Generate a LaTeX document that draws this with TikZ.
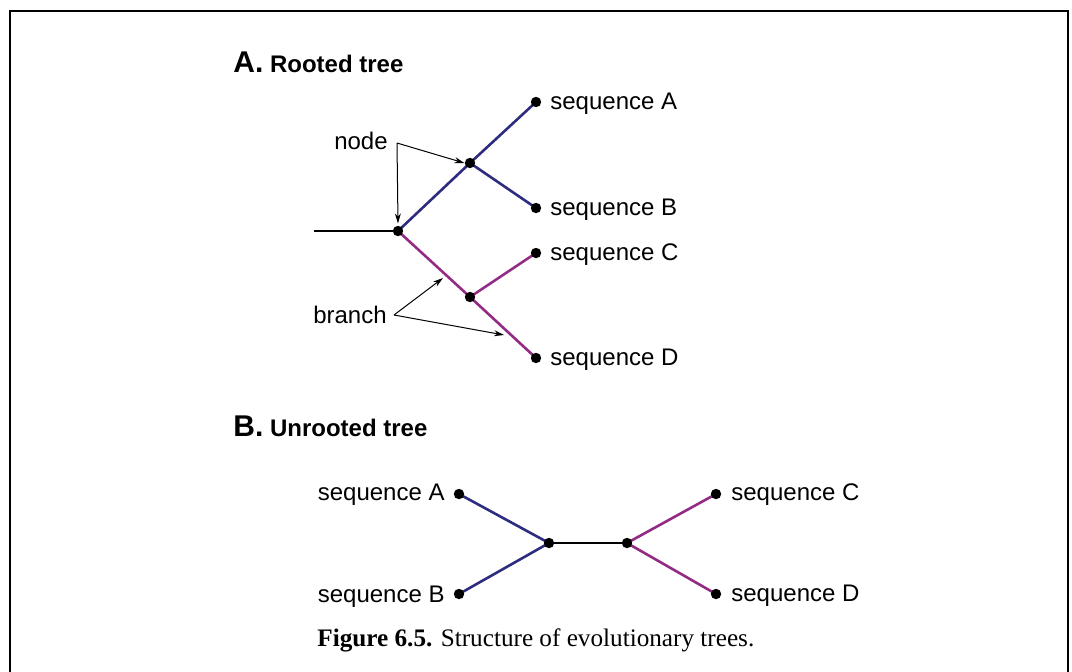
\documentclass[tikz,border=0pt]{standalone}
\usepackage{fontspec}
\setmainfont{Liberation Sans}
\newfontfamily\capfont{Liberation Serif}
\usetikzlibrary{arrows.meta,backgrounds}
\definecolor{treeblue}{HTML}{2E2C7E}
\definecolor{treepurple}{HTML}{932B84}
\tikzset{
  dot/.style={circle,fill=black,inner sep=0pt,minimum size=5.2pt},
  lbl/.style={font=\fontsize{12}{14}\selectfont,inner sep=0pt},
  head/.style={font=\fontsize{12}{14}\selectfont\bfseries,inner sep=0pt,anchor=base west},
  blueb/.style={treeblue,line width=1.3pt},
  purpb/.style={treepurple,line width=1.3pt},
  blackb/.style={black,line width=1.3pt},
  pointer/.style={line width=0.5pt,-{Stealth[length=5pt,width=3pt]}},
}
\begin{document}
\begin{tikzpicture}[x=0.5pt,y=-0.5pt]
\useasboundingbox (0,0) rectangle (1072,671);
% frame
\draw[line width=1pt] (10,675) -- (10,11) -- (1068,11) -- (1068,675);
% headings
\node[head] (hA) at (233,72) {{\fontsize{15}{16}\selectfont A.} Rooted tree};
\node[head] (hB) at (233,436) {{\fontsize{15}{16}\selectfont B.} Unrooted tree};
% rooted tree
\coordinate (rstart) at (314,231);
\node[dot] (r) at (398,231) {};
\node[dot] (n1) at (470,163) {};
\node[dot] (n2) at (470,297) {};
\node[dot] (a) at (536,102) {};
\node[dot] (b) at (536,208) {};
\node[dot] (c) at (536,253) {};
\node[dot] (d) at (536,358) {};
\begin{scope}[on background layer]
\draw[blackb] (rstart) -- (r.center);
\draw[blueb] (r.center) -- (n1.center) -- (a.center);
\draw[blueb] (n1.center) -- (b.center);
\draw[purpb] (r.center) -- (n2.center) -- (d.center);
\draw[purpb] (n2.center) -- (c.center);
\end{scope}
\node[lbl,anchor=west] (la) at (550,104) {sequence A};
\node[lbl,anchor=west] (lb) at (550,210) {sequence B};
\node[lbl,anchor=west] (lc) at (550,255) {sequence C};
\node[lbl,anchor=west] (ld) at (550,360) {sequence D};
\node[lbl] (nodelbl) at (361,141) {node};
\node[lbl] (branchlbl) at (350,315) {branch};
\coordinate (nj) at (397,143);
\coordinate (bj) at (394,315);
\coordinate (bt1) at (443,278);
\coordinate (bt2) at (504,335);
\draw[pointer] (nj) -- ([yshift=1pt]r.north);
\draw[pointer] (nj) -- (n1.west);
\draw[pointer] (bj) -- (bt1);
\draw[pointer] (bj) -- (bt2);
% unrooted tree
\node[dot] (u1) at (549,543) {};
\node[dot] (u2) at (627,543) {};
\node[dot] (ua) at (459,494) {};
\node[dot] (ub) at (459,594) {};
\node[dot] (uc) at (716,494) {};
\node[dot] (ud) at (716,594) {};
\begin{scope}[on background layer]
\draw[blackb] (u1.center) -- (u2.center);
\draw[blueb] (ua.center) -- (u1.center) -- (ub.center);
\draw[purpb] (uc.center) -- (u2.center) -- (ud.center);
\end{scope}
\node[lbl,anchor=east] (lua) at (445,495) {sequence A};
\node[lbl,anchor=east] (lub) at (445,597) {sequence B};
\node[lbl,anchor=west] (luc) at (731,495) {sequence C};
\node[lbl,anchor=west] (lud) at (731,596) {sequence D};
% caption
\node[inner sep=0pt,anchor=base west,font=\capfont\fontsize{12.6}{15}\selectfont] (cap) at (317,646) {\textbf{Figure 6.5.} Structure of evolutionary trees.};
\end{tikzpicture}
\end{document}
